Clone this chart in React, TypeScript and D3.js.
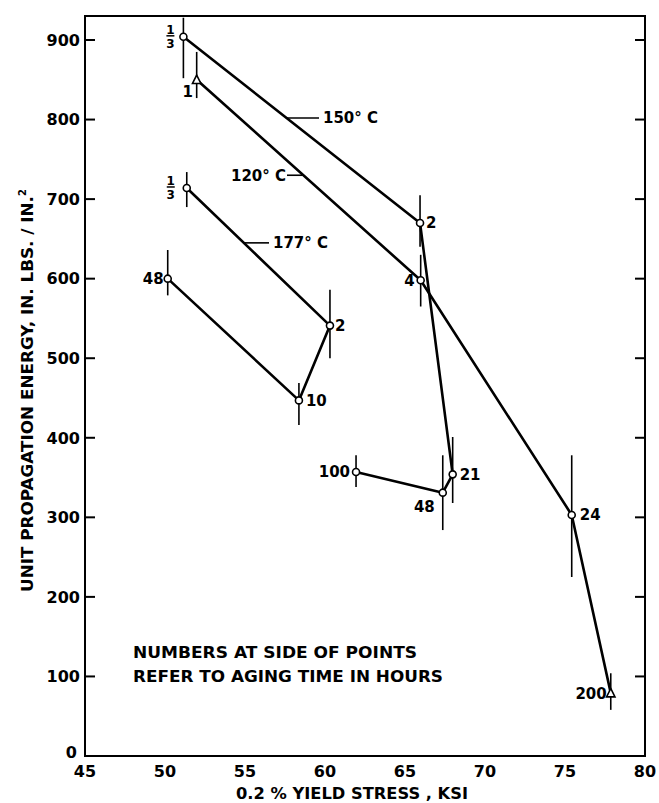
import React from "react";
import * as d3 from "d3";

// ---- data ----
const xTicks = [45, 50, 55, 60, 65, 70, 75, 80];
const yTicks = [0, 100, 200, 300, 400, 500, 600, 700, 800, 900];

// 150 °C series (circles): aging hours, yield stress, energy, error bar low/high
const s150Hours = ["1/3", "2", "21", "48", "100"];
const s150X = [51.15, 65.94, 67.98, 67.36, 61.94];
const s150Y = [904, 670, 354, 331, 357];
const s150Lo = [852, 640, 318, 284, 338];
const s150Hi = [928, 705, 401, 378, 378];

// 120 °C series (triangles / circles)
const s120Hours = ["1", "4", "24", "200"];
const s120X = [51.98, 65.98, 75.42, 77.86];
const s120Y = [850, 598, 303, 79];
const s120Lo = [827, 565, 225, 58];
const s120Hi = [885, 630, 378, 104];
const s120Marker = ["tri", "circ", "circ", "tri"];

// 177 °C series (circles)
const s177Hours = ["1/3", "2", "10", "48"];
const s177X = [51.36, 60.31, 58.37, 50.17];
const s177Y = [714, 541, 447, 600];
const s177Lo = [690, 500, 416, 579];
const s177Hi = [734, 586, 469, 636];

const seriesNames = ["150° C", "120° C", "177° C"];
const noteLines = ["NUMBERS AT SIDE OF POINTS", "REFER  TO AGING TIME IN HOURS"];
const xTitle = "0.2 % YIELD STRESS , KSI";
const yTitle = "UNIT PROPAGATION ENERGY, IN. LBS. / IN.";

// ---- layout ----
const W = 659, H = 803;
const L = 85, R = 645, T = 16, B = 756;
const x = d3.scaleLinear().domain([45, 80]).range([L, R]);
const y = d3.scaleLinear().domain([0, 900]).range([B, 40]);
const FONT = "'DejaVu Sans', sans-serif";

type Pt = { x: number; y: number; lo: number; hi: number; h: string; m: string };
const build = (hs: string[], xs: number[], ys: number[], lo: number[], hi: number[], ms?: string[]): Pt[] =>
  hs.map((h, i) => ({ x: xs[i], y: ys[i], lo: lo[i], hi: hi[i], h, m: ms ? ms[i] : "circ" }));

const p150 = build(s150Hours, s150X, s150Y, s150Lo, s150Hi);
const p120 = build(s120Hours, s120X, s120Y, s120Lo, s120Hi, s120Marker);
const p177 = build(s177Hours, s177X, s177Y, s177Lo, s177Hi);

// label side/offset for each point label (dx, dy, anchor)
const off150: [number, number, string][] = [[-13, 0, "frac"], [6, 0, "start"], [7, 0, "start"], [-8, 14, "end"], [-6, 0, "end"]];
const off120: [number, number, string][] = [[-9, 12, "middle"], [-6, 0, "end"], [8, 0, "start"], [-4, 0, "end"]];
const off177: [number, number, string][] = [[-16, 0, "frac"], [5, 0, "start"], [7, 0, "start"], [-4, 0, "end"]];

const line = d3.line<Pt>().x((d) => x(d.x)).y((d) => y(d.y));

function Marker({ p }: { p: Pt }) {
  const cx = x(p.x), cy = y(p.y);
  if (p.m === "tri") {
    const s = 4.2;
    return <path d={`M${cx},${cy - s - 0.5}L${cx + s},${cy + s - 0.5}L${cx - s},${cy + s - 0.5}Z`} fill="#fff" stroke="#000" strokeWidth={1.6} />;
  }
  return <circle cx={cx} cy={cy} r={3.5} fill="#fff" stroke="#000" strokeWidth={1.6} />;
}

function PtLabel({ p, o }: { p: Pt; o: [number, number, string] }) {
  const cx = x(p.x) + o[0], cy = y(p.y) + o[1];
  if (o[2] === "frac") {
    return (
      <g fontFamily={FONT} fontWeight="bold" fontSize={12} textAnchor="middle">
        <text x={cx} y={cy - 3}>1</text>
        <line x1={cx - 4} x2={cx + 4} y1={cy - 1} y2={cy - 1} stroke="#000" strokeWidth={1.5} />
        <text x={cx} y={cy + 11}>3</text>
      </g>
    );
  }
  return (
    <text x={cx} y={cy} dy="0.36em" textAnchor={o[2] as any} fontFamily={FONT} fontWeight="bold" fontSize={15}>
      {p.h}
    </text>
  );
}

function Series({ pts, offs }: { pts: Pt[]; offs: [number, number, string][] }) {
  return (
    <g>
      {pts.map((p, i) => (
        <line key={"e" + i} x1={x(p.x)} x2={x(p.x)} y1={y(p.lo)} y2={y(p.hi)} stroke="#000" strokeWidth={1.6} />
      ))}
      <path d={line(pts) || ""} fill="none" stroke="#000" strokeWidth={2.6} strokeLinejoin="round" />
      {pts.map((p, i) => <Marker key={"m" + i} p={p} />)}
      {pts.map((p, i) => <PtLabel key={"l" + i} p={p} o={offs[i]} />)}
    </g>
  );
}

// series name labels with leader lines: attach point on the series segment (value coordinates)
const nameAnchors = [
  { sx: 57.56, sy: 802, tx: 323, side: "right" },
  { sx: 58.6, sy: 730, tx: 290, side: "left" },
  { sx: 54.94, sy: 645, tx: 273, side: "right" },
];

export default function App() {
  return (
    <svg width={W} height={H} style={{ display: "block", position: "absolute", left: 0, top: 0, background: "#fff" }}>
      <rect x={0} y={0} width={W} height={H} fill="#fff" />
      {/* frame */}
      <rect x={L} y={T} width={R - L} height={B - T} fill="none" stroke="#000" strokeWidth={2} />
      {/* y ticks left & right */}
      {yTicks.map((t) => (
        <g key={t}>
          {t > 0 && <line x1={L} x2={L + 10} y1={y(t)} y2={y(t)} stroke="#000" strokeWidth={2} />}
          {t > 0 && <line x1={R - 10} x2={R} y1={y(t)} y2={y(t)} stroke="#000" strokeWidth={2} />}
          <text x={t === 0 ? 77 : 80} y={y(t)} dy={t === 0 ? "0.1em" : "0.36em"} textAnchor="end" fontFamily={FONT} fontWeight="bold" fontSize={16}>
            {t}
          </text>
        </g>
      ))}
      {xTicks.map((t) => (
        <text key={t} x={x(t)} y={777} textAnchor="middle" fontFamily={FONT} fontWeight="bold" fontSize={16}>
          {t}
        </text>
      ))}
      <text x={236} y={799} textLength={232} lengthAdjust="spacingAndGlyphs" fontFamily={FONT} fontWeight="bold" fontSize={16}>
        {xTitle}
      </text>
      <text transform="translate(33,592) rotate(-90)" fontFamily={FONT} fontWeight="bold" fontSize={16}>
        <tspan textLength={396} lengthAdjust="spacingAndGlyphs">{yTitle}</tspan>
        <tspan dy={-7} fontSize={10}>2</tspan>
      </text>

      <Series pts={p150} offs={off150} />
      <Series pts={p120} offs={off120} />
      <Series pts={p177} offs={off177} />

      {nameAnchors.map((a, i) => {
        const ax = x(a.sx), ay = y(a.sy);
        const left = a.side === "left";
        return (
          <g key={i}>
            <line x1={ax} x2={left ? a.tx - 3 : a.tx - 4} y1={ay} y2={ay} stroke="#000" strokeWidth={1.6} />
            <text x={left ? a.tx - 4 : a.tx} y={ay} dy="0.36em" textAnchor={left ? "end" : "start"} fontFamily={FONT} fontWeight="bold" fontSize={15}>
              {seriesNames[i]}
            </text>
          </g>
        );
      })}

      {noteLines.map((s, i) => (
        <text key={i} x={133} y={652 + i * 24} dy="0.36em" textLength={i === 0 ? 284 : 310} lengthAdjust="spacingAndGlyphs" fontFamily={FONT} fontWeight="bold" fontSize={16}>
          {s}
        </text>
      ))}
    </svg>
  );
}
